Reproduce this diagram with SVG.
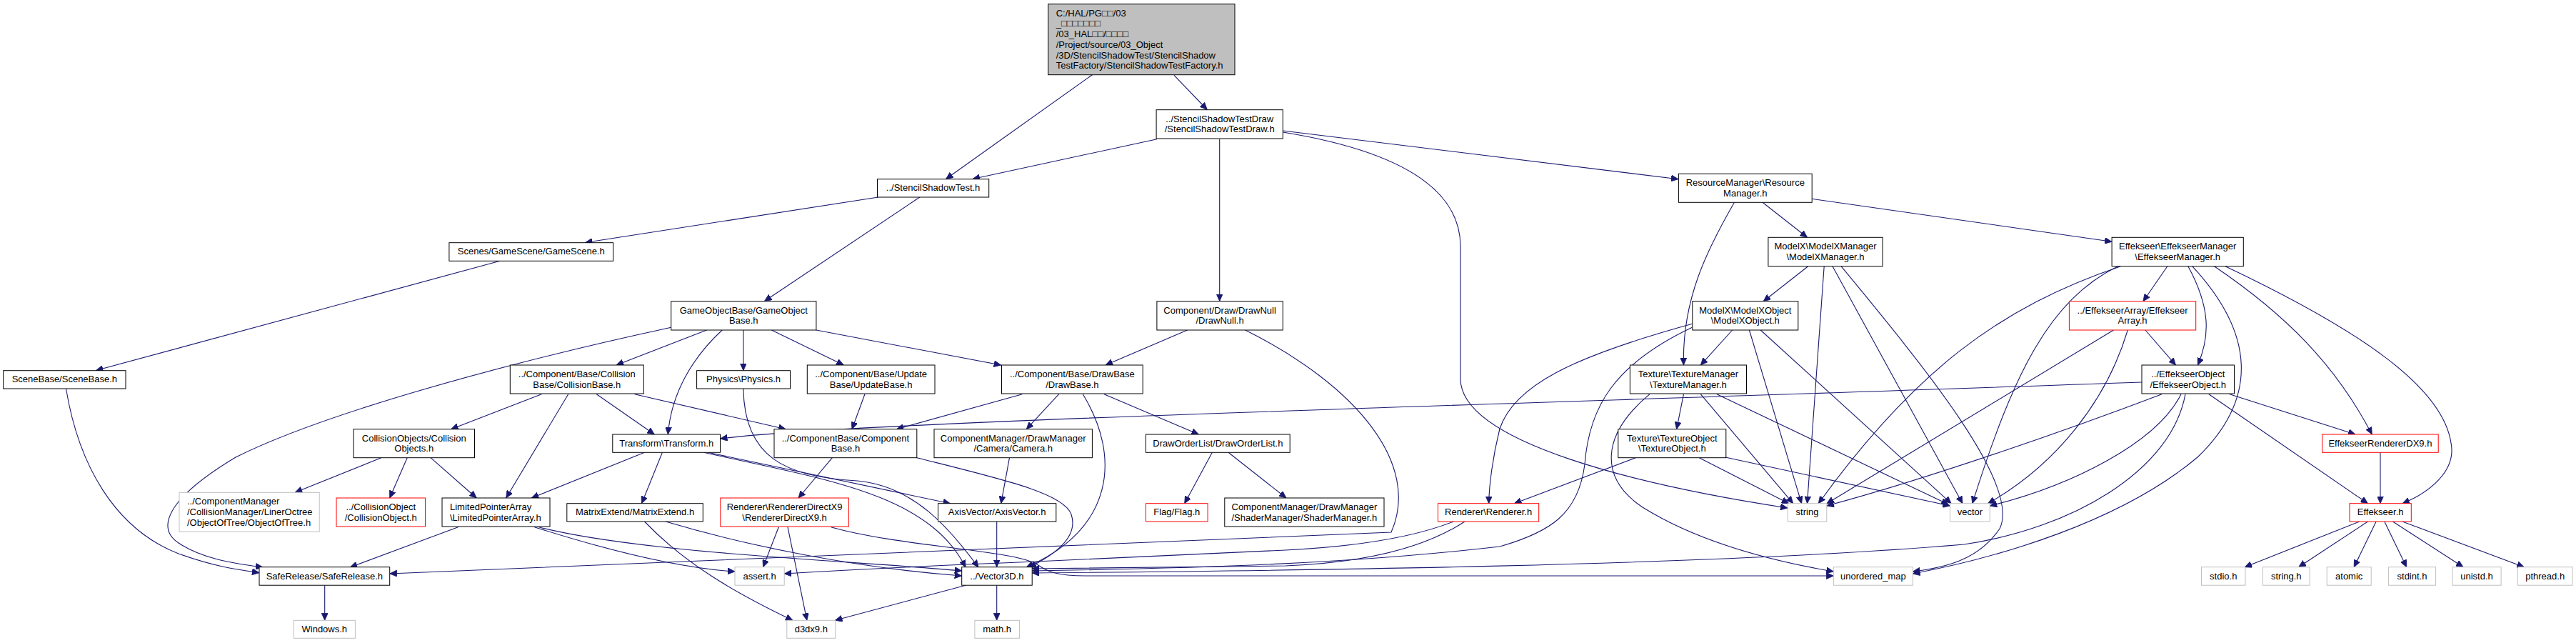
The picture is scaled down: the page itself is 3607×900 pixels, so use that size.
<svg xmlns="http://www.w3.org/2000/svg" width="3607" height="900" viewBox="0 0 3607 900">
<style>
rect.n{fill:#fff;stroke:#000;stroke-width:1}
rect.g{fill:#fff;stroke:#bfbfbf;stroke-width:1}
rect.r{fill:#fff;stroke:#ff0000;stroke-width:1}
rect.m{fill:#bfbfbf;stroke:#000;stroke-width:1}
text{font-family:"Liberation Sans",Arial,"DejaVu Sans",sans-serif;font-size:13px;fill:#000}
text.c{text-anchor:middle}
#edges path{fill:none;stroke:#191970;stroke-width:1.1;marker-end:url(#ah)}
</style>
<defs>
<marker id="ah" markerUnits="userSpaceOnUse" markerWidth="10" markerHeight="9" refX="10" refY="4.5" orient="auto">
<path d="M0,0 L10,4.5 L0,9 z" fill="#191970" stroke="#191970" stroke-width="0.8"/>
</marker>
</defs>
<rect x="0" y="0" width="3607" height="900" fill="#fff"/>

<g id="edges">
<path d="M1529.4,104.7 L1324.6,250.5"/>
<path d="M1644,105.3 L1690.3,153.5"/>
<path d="M1620,194.7 L1362,250.5"/>
<path d="M1707.7,194.7 L1707.7,421.5"/>
<path d="M1796.5,183 L2350,250.7"/>
<path d="M1796.5,185 C1950,210 2045,260 2045,345 L2045,530 C2045,620 2300,680 2503,711"/>
<path d="M1229.7,276 L819.5,339.5"/>
<path d="M1287.8,276 L1070.5,421.5"/>
<path d="M700,365.3 L134.4,518.5"/>
<path d="M92.5,544 C110,650 160,740 250,775 C300,793 330,797 363,801.7"/>
<path d="M939.7,458.3 C700,510 450,580 330,640 C230,700 220,740 250,760 C280,780 320,788 368,794"/>
<path d="M989.5,462 L863,511"/>
<path d="M1011.2,462 C970,500 940,550 935.3,608"/>
<path d="M1040.9,462 L1040.9,518.7"/>
<path d="M1080.4,462 L1181.3,511"/>
<path d="M1142.9,462 L1401.7,511"/>
<path d="M758.2,551.7 L631.6,600.7"/>
<path d="M795.7,551.7 L708.7,697"/>
<path d="M835.3,551.7 L916.3,608"/>
<path d="M888.6,551.7 L1100.2,600.7"/>
<path d="M533.8,640.7 L413.2,689.3"/>
<path d="M570.2,640.7 L545.7,697"/>
<path d="M603,640.7 L667.2,697"/>
<path d="M641.5,737.7 L490.3,794"/>
<path d="M748.3,737.7 C850,770 950,795 1029,800"/>
<path d="M754.2,737.7 C900,775 1200,785 1346.7,799"/>
<path d="M1040.9,544 C1042,640 1100,668 1200,673 C1280,680 1330,740 1370,794"/>
<path d="M1210.9,551.7 L1193,600.7"/>
<path d="M1431.3,551.7 L1255.4,600.7"/>
<path d="M1482.7,551.7 L1437.3,600.7"/>
<path d="M1516.3,551.7 C1570,640 1560,740 1437,794"/>
<path d="M1546,551.7 L1678.4,608"/>
<path d="M1662.6,462 L1548,511"/>
<path d="M1743.7,462 C1900,540 1990,650 1948,745 L545.7,803"/>
<path d="M1413.5,640.7 L1401.7,704.7"/>
<path d="M1395.7,730 L1395.7,793.7"/>
<path d="M902.5,633.3 L744.3,697"/>
<path d="M927.4,633.3 L898.5,704.7"/>
<path d="M985.5,633.3 C1150,670 1300,690 1352,794"/>
<path d="M991.5,633.3 L1330.5,704.7"/>
<path d="M932.1,730 C1050,765 1200,795 1346.7,806"/>
<path d="M902.5,730 C960,790 1030,830 1110,868.3"/>
<path d="M1090.3,737.7 L1068.6,793.7"/>
<path d="M1103,737.7 L1129.9,868.3"/>
<path d="M1163.5,737.7 C1260,765 1420,770 1452,790 C1466,800 1480,806 1520,806 L2567.3,806"/>
<path d="M1165.4,640.7 L1118,697"/>
<path d="M1283.8,640.7 C1400,670 1490,690 1500,720 C1510,750 1480,775 1441,794"/>
<path d="M1395.7,819.2 L1395.7,868.3"/>
<path d="M1352.2,819.2 L1169.4,868.3"/>
<path d="M454.7,819.2 L454.7,868.3"/>
<path d="M1697.4,633.3 L1658.7,704.7"/>
<path d="M1720,633.3 L1801,697"/>
<path d="M2468,283.3 L2530.5,332.3"/>
<path d="M2537.2,278.3 L2957,338.3"/>
<path d="M2428.5,283.3 C2390,350 2355,420 2357.5,511"/>
<path d="M2531.7,372.7 L2469.2,421.7"/>
<path d="M2554.2,372.7 L2530.5,704.7"/>
<path d="M2566,372.7 L2748,704.7"/>
<path d="M2578,372.7 C2700,520 2830,680 2800,740 C2770,785 2720,795 2678.4,800"/>
<path d="M3034.8,372.7 L3001,421.7"/>
<path d="M2969.4,372.7 C2800,430 2680,520 2546.3,704.7"/>
<path d="M2965.4,372.7 C2870,420 2820,520 2761.8,704.7"/>
<path d="M3063.9,372.7 C3095,430 3095,470 3077.4,511"/>
<path d="M3069.7,372.7 C3160,470 3160,560 3077,640 C2970,730 2800,780 2678.4,803"/>
<path d="M3100.6,372.7 C3200,440 3270,510 3321.3,608"/>
<path d="M3116,372.7 C3300,460 3420,540 3432,620 C3440,660 3400,690 3364,704.7"/>
<path d="M3003.9,462 L3046.5,511"/>
<path d="M2959.5,462 L2558,704.7"/>
<path d="M2979.3,462 C2950,560 2880,650 2783.6,704.7"/>
<path d="M2999,535 C2000,570 1200,590 1008.5,614"/>
<path d="M3027,551.7 C2900,600 2700,670 2557.8,708"/>
<path d="M3054,551.7 C3020,620 2900,680 2786.3,708"/>
<path d="M3060,551.7 C3040,660 2900,740 2750,762 C2400,792 1800,799 1445.2,802"/>
<path d="M3122,551.7 L3298,608"/>
<path d="M3092.9,551.7 L3315.5,704.7"/>
<path d="M3333,633.3 L3333,704.7"/>
<path d="M3303.9,730 L3143.2,793.7"/>
<path d="M3315.5,730 L3218.7,793.7"/>
<path d="M3327.1,730 L3296.2,793.7"/>
<path d="M3338.8,730 L3369.7,793.7"/>
<path d="M3350.4,730 L3449.1,793.7"/>
<path d="M3363.9,730 L3534.3,793.7"/>
<path d="M2425.7,462 L2381.3,511"/>
<path d="M2369.4,453.3 C2200,500 2120,540 2100,600 C2090,640 2085,680 2084.7,704.7"/>
<path d="M2369.4,458.3 C2260,510 2225,570 2219,650 C2210,720 2170,745 2100,765 C1900,788 1700,795 1445.2,799"/>
<path d="M2449.4,462 L2522.6,704.7"/>
<path d="M2465.2,462 L2732.1,704.7"/>
<path d="M2357.5,551.7 L2347.6,600.7"/>
<path d="M2381.3,551.7 L2510.7,704.7"/>
<path d="M2404,551.7 L2728.2,706"/>
<path d="M2310,551.7 C2240,610 2240,670 2300,710 C2380,760 2480,785 2567.3,800"/>
<path d="M2290.3,640.7 L2120.3,704.7"/>
<path d="M2379.3,640.7 L2504.8,704.7"/>
<path d="M2415.8,640 L2730.6,708"/>
<path d="M2035.3,730 C1980,752 1900,765 1800,770 L1450,786 C1300,792 1200,797 1098.2,803"/>
<path d="M2051,730 C1990,770 1900,788 1800,792 L1445.2,796"/>
</g>

<g id="n_main"><rect class="m" x="1467.7" y="5.7" width="261.3" height="99"/>
<text x="1478.7" y="22.7">C:/HAL/PG□□/03</text>
<text x="1478.7" y="37.4">_□□□□□□□</text>
<text x="1478.7" y="52.1">/03_HAL□□/□□□□</text>
<text x="1478.7" y="66.8">/Project/source/03_Object</text>
<text x="1478.7" y="81.5">/3D/StencilShadowTest/StencilShadow</text>
<text x="1478.7" y="96.2">TestFactory/StencilShadowTestFactory.h</text></g>
<g id="n_sstd"><rect class="n" x="1619.1" y="153.7" width="177.2" height="40.3"/>
<text class="c" x="1707.7" y="170.7">../StencilShadowTestDraw</text>
<text class="c" x="1707.7" y="185.4">/StencilShadowTestDraw.h</text></g>
<g id="n_sst"><rect class="n" x="1228.5" y="250.7" width="156.2" height="25.3"/>
<text class="c" x="1306.6" y="267.4">../StencilShadowTest.h</text></g>
<g id="n_resmgr"><rect class="n" x="2350.4" y="243.3" width="186.8" height="40"/>
<text class="c" x="2443.8" y="260.3">ResourceManager\Resource</text>
<text class="c" x="2443.8" y="275">Manager.h</text></g>
<g id="n_gamescene"><rect class="n" x="628.9" y="339.7" width="229.7" height="25.6"/>
<text class="c" x="743.75" y="356.4">Scenes/GameScene/GameScene.h</text></g>
<g id="n_modelxmgr"><rect class="n" x="2475.9" y="332.3" width="160.2" height="40.4"/>
<text class="c" x="2556" y="349.3">ModelX\ModelXManager</text>
<text class="c" x="2556" y="364">\ModelXManager.h</text></g>
<g id="n_effmgr"><rect class="n" x="2957.1" y="332.3" width="184.2" height="40.4"/>
<text class="c" x="3049.2" y="349.3">Effekseer\EffekseerManager</text>
<text class="c" x="3049.2" y="364">\EffekseerManager.h</text></g>
<g id="n_gameobjbase"><rect class="n" x="939.7" y="421.7" width="203.2" height="40.3"/>
<text class="c" x="1041.3" y="438.7">GameObjectBase/GameObject</text>
<text class="c" x="1041.3" y="453.4">Base.h</text></g>
<g id="n_drawnull"><rect class="n" x="1619.9" y="421.7" width="176.4" height="40.3"/>
<text class="c" x="1708.1" y="438.7">Component/Draw/DrawNull</text>
<text class="c" x="1708.1" y="453.4">/DrawNull.h</text></g>
<g id="n_modelxobj"><rect class="n" x="2369.8" y="421.7" width="148" height="40.3"/>
<text class="c" x="2443.8" y="438.7">ModelX\ModelXObject</text>
<text class="c" x="2443.8" y="453.4">\ModelXObject.h</text></g>
<g id="n_effarray"><rect class="r" x="2897.4" y="421.7" width="177.3" height="40.3"/>
<text class="c" x="2986.05" y="438.7">../EffekseerArray/Effekseer</text>
<text class="c" x="2986.05" y="453.4">Array.h</text></g>
<g id="n_scenebase"><rect class="n" x="4.7" y="518.7" width="171.3" height="25.3"/>
<text class="c" x="90.35" y="535.4">SceneBase/SceneBase.h</text></g>
<g id="n_collisionbase"><rect class="n" x="714.3" y="511" width="187" height="40"/>
<text class="c" x="807.8" y="528">../Component/Base/Collision</text>
<text class="c" x="807.8" y="542.7">Base/CollisionBase.h</text></g>
<g id="n_physics"><rect class="n" x="975.6" y="518.7" width="130.9" height="25.3"/>
<text class="c" x="1041.05" y="535.4">Physics\Physics.h</text></g>
<g id="n_updatebase"><rect class="n" x="1130.3" y="511" width="178.7" height="40"/>
<text class="c" x="1219.65" y="528">../Component/Base/Update</text>
<text class="c" x="1219.65" y="542.7">Base/UpdateBase.h</text></g>
<g id="n_drawbase"><rect class="n" x="1402.5" y="511" width="197.7" height="40"/>
<text class="c" x="1501.35" y="528">../Component/Base/DrawBase</text>
<text class="c" x="1501.35" y="542.7">/DrawBase.h</text></g>
<g id="n_texmgr"><rect class="n" x="2282.4" y="511" width="163.1" height="40"/>
<text class="c" x="2363.95" y="528">Texture\TextureManager</text>
<text class="c" x="2363.95" y="542.7">\TextureManager.h</text></g>
<g id="n_effobj"><rect class="n" x="2999" y="511" width="129.5" height="40"/>
<text class="c" x="3063.75" y="528">../EffekseerObject</text>
<text class="c" x="3063.75" y="542.7">/EffekseerObject.h</text></g>
<g id="n_collisionobjects"><rect class="n" x="495" y="600.7" width="169.5" height="40"/>
<text class="c" x="579.75" y="617.7">CollisionObjects/Collision</text>
<text class="c" x="579.75" y="632.4">Objects.h</text></g>
<g id="n_transform"><rect class="n" x="857.8" y="608" width="150.7" height="25.3"/>
<text class="c" x="933.15" y="624.7">Transform\Transform.h</text></g>
<g id="n_componentbase"><rect class="n" x="1084" y="600.7" width="199.8" height="40"/>
<text class="c" x="1183.9" y="617.7">../ComponentBase/Component</text>
<text class="c" x="1183.9" y="632.4">Base.h</text></g>
<g id="n_camera"><rect class="n" x="1308" y="600.7" width="221.4" height="40"/>
<text class="c" x="1418.7" y="617.7">ComponentManager/DrawManager</text>
<text class="c" x="1418.7" y="632.4">/Camera/Camera.h</text></g>
<g id="n_draworderlist"><rect class="n" x="1604.5" y="608" width="201.7" height="25.3"/>
<text class="c" x="1705.35" y="624.7">DrawOrderList/DrawOrderList.h</text></g>
<g id="n_texobj"><rect class="n" x="2265.8" y="600.7" width="151" height="40"/>
<text class="c" x="2341.3" y="617.7">Texture\TextureObject</text>
<text class="c" x="2341.3" y="632.4">\TextureObject.h</text></g>
<g id="n_effrendererdx9"><rect class="r" x="3251.6" y="608" width="162.6" height="25.3"/>
<text class="c" x="3332.9" y="624.7">EffekseerRendererDX9.h</text></g>
<g id="n_objectoftree"><rect class="g" x="251" y="689.3" width="196.2" height="55"/>
<text x="262" y="706.3">../ComponentManager</text>
<text x="262" y="721">/CollisionManager/LinerOctree</text>
<text x="262" y="735.7">/ObjectOfTree/ObjectOfTree.h</text></g>
<g id="n_collisionobject"><rect class="r" x="471" y="697" width="124.5" height="40"/>
<text class="c" x="533.25" y="714">../CollisionObject</text>
<text class="c" x="533.25" y="728.7">/CollisionObject.h</text></g>
<g id="n_limitedptr"><rect class="n" x="619" y="697" width="151" height="40"/>
<text x="630" y="714">LimitedPointerArray</text>
<text x="630" y="728.7">\LimitedPointerArray.h</text></g>
<g id="n_matrixextend"><rect class="n" x="793.8" y="704.7" width="190.5" height="25.3"/>
<text class="c" x="889.05" y="721.4">MatrixExtend/MatrixExtend.h</text></g>
<g id="n_rendererdx9"><rect class="r" x="1008.8" y="697" width="179.6" height="40"/>
<text class="c" x="1098.6" y="714">Renderer\RendererDirectX9</text>
<text class="c" x="1098.6" y="728.7">\RendererDirectX9.h</text></g>
<g id="n_axisvector"><rect class="n" x="1313.5" y="704.7" width="165.3" height="25.3"/>
<text class="c" x="1396.15" y="721.4">AxisVector/AxisVector.h</text></g>
<g id="n_flag"><rect class="r" x="1604.5" y="704.7" width="86.6" height="25.3"/>
<text class="c" x="1647.8" y="721.4">Flag/Flag.h</text></g>
<g id="n_shadermgr"><rect class="n" x="1714.8" y="697" width="223.2" height="40"/>
<text class="c" x="1826.4" y="714">ComponentManager/DrawManager</text>
<text class="c" x="1826.4" y="728.7">/ShaderManager/ShaderManager.h</text></g>
<g id="n_renderer"><rect class="r" x="2013.5" y="704.7" width="141.2" height="25.3"/>
<text class="c" x="2084.1" y="721.4">Renderer\Renderer.h</text></g>
<g id="n_string"><rect class="g" x="2503.2" y="704.7" width="54.6" height="25.3"/>
<text class="c" x="2530.5" y="721.4">string</text></g>
<g id="n_vector"><rect class="g" x="2730.6" y="704.7" width="55.7" height="25.3"/>
<text class="c" x="2758.45" y="721.4">vector</text></g>
<g id="n_effekseer"><rect class="r" x="3290" y="704.7" width="86.3" height="25.3"/>
<text class="c" x="3333.15" y="721.4">Effekseer.h</text></g>
<g id="n_saferelease"><rect class="n" x="363" y="793.7" width="182.7" height="25.5"/>
<text class="c" x="454.35" y="810.5">SafeRelease/SafeRelease.h</text></g>
<g id="n_assert"><rect class="g" x="1029" y="793.7" width="69.2" height="25.5"/>
<text class="c" x="1063.6" y="810.5">assert.h</text></g>
<g id="n_vector3d"><rect class="n" x="1346.7" y="793.7" width="98.5" height="25.5"/>
<text class="c" x="1395.95" y="810.5">../Vector3D.h</text></g>
<g id="n_unordered_map"><rect class="g" x="2567.3" y="793.7" width="111.1" height="25.5"/>
<text class="c" x="2622.85" y="810.5">unordered_map</text></g>
<g id="n_stdio"><rect class="g" x="3082.5" y="793.7" width="61.5" height="25.5"/>
<text class="c" x="3113.25" y="810.5">stdio.h</text></g>
<g id="n_stringh"><rect class="g" x="3168.4" y="793.7" width="65.8" height="25.5"/>
<text class="c" x="3201.3" y="810.5">string.h</text></g>
<g id="n_atomic"><rect class="g" x="3258.2" y="793.7" width="62" height="25.5"/>
<text class="c" x="3289.2" y="810.5">atomic</text></g>
<g id="n_stdint"><rect class="g" x="3344.6" y="793.7" width="65.8" height="25.5"/>
<text class="c" x="3377.5" y="810.5">stdint.h</text></g>
<g id="n_unistd"><rect class="g" x="3434" y="793.7" width="68.1" height="25.5"/>
<text class="c" x="3468.05" y="810.5">unistd.h</text></g>
<g id="n_pthread"><rect class="g" x="3525.4" y="793.7" width="76.6" height="25.5"/>
<text class="c" x="3563.7" y="810.5">pthread.h</text></g>
<g id="n_windows"><rect class="g" x="411.2" y="868.3" width="86.2" height="25"/>
<text class="c" x="454.3" y="885">Windows.h</text></g>
<g id="n_d3dx9"><rect class="g" x="1101.8" y="868.3" width="68" height="25"/>
<text class="c" x="1135.8" y="885">d3dx9.h</text></g>
<g id="n_math"><rect class="g" x="1364.9" y="868.3" width="62.5" height="25"/>
<text class="c" x="1396.15" y="885">math.h</text></g>
</svg>
